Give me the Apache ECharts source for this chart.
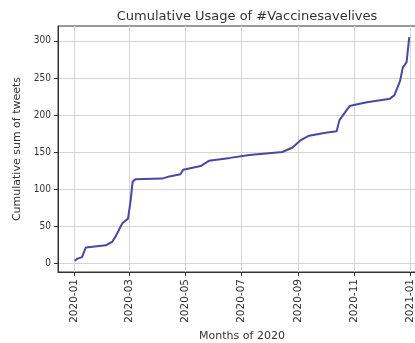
<!DOCTYPE html>
<html>
<head>
<meta charset="utf-8">
<script src="https://cdn.jsdelivr.net/npm/echarts@6/dist/echarts.min.js"></script>
<style>
  html, body { margin: 0; padding: 0; background: #fff; }
  #chart { width: 415px; height: 343px; }
</style>
</head>
<body>
<div id="chart"></div>
<script>
// Daily cumulative count of tweets carrying the hashtag during 2020
const dates = [
  '2020-01-02', '2020-01-05', '2020-01-10', '2020-01-12', '2020-01-14',
  '2020-02-05', '2020-02-12', '2020-02-16', '2020-02-20', '2020-02-23',
  '2020-02-29', '2020-03-03', '2020-03-05', '2020-03-08', '2020-04-06',
  '2020-04-14', '2020-04-26', '2020-04-29', '2020-05-18', '2020-05-27',
  '2020-06-19', '2020-07-10', '2020-08-15', '2020-08-26', '2020-09-04',
  '2020-09-13', '2020-10-01', '2020-10-13', '2020-10-16', '2020-10-27',
  '2020-11-07', '2020-11-15', '2020-12-10', '2020-12-15', '2020-12-21',
  '2020-12-24', '2020-12-28', '2020-12-29', '2020-12-31'
];
const cumulativeTweets = [
  3, 6, 8, 10, 21,
  24, 29, 37, 47, 54,
  60, 86, 110, 113, 114,
  117, 120, 126, 131, 138,
  142, 146, 150, 156, 166,
  172, 176, 178, 193, 212,
  215, 217, 222, 227, 246,
  264, 271, 282, 305
];
const monthTicks = ['2020-01-01', '2020-03-01', '2020-05-01', '2020-07-01', '2020-09-01', '2020-11-01', '2021-01-01'];
const valueTicks = [0, 50, 100, 150, 200, 250, 300];

const DAY = 86400000;
const toTime = s => { const p = s.split('-').map(Number); return Date.UTC(p[0], p[1] - 1, p[2]); };
const start = toTime('2020-01-01');
const tickTimes = monthTicks.map(toTime);
const pad2 = n => (n < 10 ? '0' : '') + n;

const chart = echarts.init(document.getElementById('chart'), null, { renderer: 'canvas' });
const font = 'DejaVu Sans';
const ink = '#333';

chart.setOption({
  animation: false,
  backgroundColor: '#fff',
  title: {
    text: 'Cumulative Usage of #Vaccinesavelives',
    left: 242,
    top: 5,
    textAlign: 'center',
    textStyle: { fontFamily: font, fontSize: 13, fontWeight: 'normal', color: ink }
  },
  grid: {
    left: 58, top: 26, right: -11, bottom: 71,
    containLabel: false,
    outerBoundsMode: 'none',
    show: true, borderColor: ink, borderWidth: 1, backgroundColor: 'transparent'
  },
  xAxis: {
    type: 'value',
    min: start - 17.2 * DAY,
    max: start + 383.2 * DAY,
    name: 'Months of 2020',
    nameLocation: 'middle',
    nameGap: 59,
    nameTextStyle: { fontFamily: font, fontSize: 11, color: ink },
    axisLine: { show: true, onZero: false, lineStyle: { color: ink, width: 1 } },
    axisTick: { show: true, inside: false, length: 4, customValues: tickTimes, lineStyle: { color: ink } },
    axisLabel: {
      customValues: tickTimes,
      rotate: 90,
      margin: 7,
      fontFamily: font, fontSize: 10.5, color: ink,
      formatter: v => { const d = new Date(v); return d.getUTCFullYear() + '-' + pad2(d.getUTCMonth() + 1); }
    },
    splitLine: { show: true, lineStyle: { color: '#d4d4d4', width: 1 } }
  },
  yAxis: {
    type: 'value',
    min: -12.1,
    max: 320.1,
    name: 'Cumulative sum of tweets',
    nameLocation: 'middle',
    nameGap: 35,
    nameTextStyle: { fontFamily: font, fontSize: 11, color: ink },
    axisLine: { show: true, lineStyle: { color: ink, width: 1 } },
    axisTick: { show: true, inside: false, length: 4, customValues: valueTicks, lineStyle: { color: ink } },
    axisLabel: { customValues: valueTicks, margin: 7, fontFamily: 'DejaVu Sans Condensed', fontSize: 10, color: ink },
    splitLine: { show: true, lineStyle: { color: '#d4d4d4', width: 1 } }
  },
  series: [{
    type: 'line',
    data: dates.map((d, i) => [toTime(d), cumulativeTweets[i]]),
    showSymbol: false,
    lineStyle: { color: '#4848a0', width: 2 },
    clip: true
  }]
});
</script>
</body>
</html>
